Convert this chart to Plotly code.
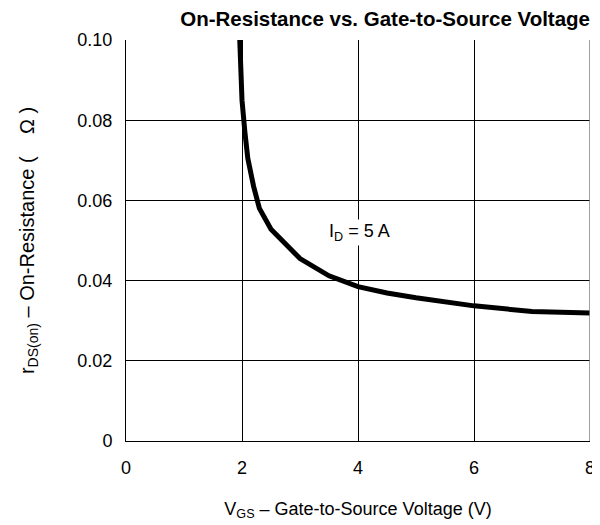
import plotly.graph_objects as go

vgs = [1.96, 2.0, 2.05, 2.1, 2.2, 2.3, 2.5, 3.0, 3.5, 4.0, 4.5, 5.0, 6.0, 7.0, 8.0]
rds = [0.1005, 0.085, 0.077, 0.0705, 0.0635, 0.058, 0.0528, 0.0455, 0.0412, 0.0385, 0.0369, 0.0357, 0.0337, 0.0323, 0.0319]

x_ticks = [0, 2, 4, 6, 8]
y_ticks = [0, 0.02, 0.04, 0.06, 0.08, 0.10]
y_ticklabels = ["0", "0.02", "0.04", "0.06", "0.08", "0.10"]

font = "Arial"

fig = go.Figure()
fig.add_trace(go.Scatter(x=vgs, y=rds, mode="lines",
                         line=dict(color="black", width=5), cliponaxis=True,
                         showlegend=False))

fig.add_annotation(x=3.47, y=0.0519, xref="x", yref="y", xanchor="left", yanchor="middle",
                   text='I<sub style="font-size:80%">D</sub> = 5 A', showarrow=False, bgcolor="white",
                   font=dict(family=font, size=18, color="black"), borderpad=1)

fig.add_shape(type="line", x0=8, x1=8, y0=0, y1=0.1, xref="x", yref="y",
              line=dict(color="#808080", width=1.5))

fig.update_layout(
    width=600, height=525,
    margin=dict(l=118, r=18, t=32, b=92),
    plot_bgcolor="white", paper_bgcolor="white",
    font=dict(family=font, size=18, color="black"),
    title=dict(text="<b>On-Resistance vs. Gate-to-Source Voltage</b>", x=0.97, xanchor="right",
               y=0.993, yanchor="top", pad=dict(t=0, b=0, l=0, r=0),
               font=dict(family=font, size=20.5, color="black")),
    xaxis=dict(range=[0, 8], tickvals=x_ticks, showgrid=True, gridcolor="black", gridwidth=1,
               showline=True, linecolor="black", linewidth=1, mirror=False, ticks="",
               zeroline=False, ticklabelstandoff=10, tickfont=dict(family=font, size=18),
               title=dict(text='V<sub style="font-size:80%">GS</sub> – Gate-to-Source Voltage (V)', standoff=25,
                          font=dict(family=font, size=18))),
    yaxis=dict(range=[0, 0.1], tickvals=y_ticks, ticktext=y_ticklabels, showgrid=True,
               gridcolor="black", gridwidth=1, showline=True, linecolor="black", linewidth=1,
               mirror=False, ticks="", zeroline=False, ticklabelstandoff=9,
               tickfont=dict(family=font, size=18),
               title=dict(text='r<sub style="font-size:85%">DS(on)</sub> – On-Resistance (    Ω )', standoff=37,
                          font=dict(family=font, size=20))),
)

fig.write_html("out.html")
